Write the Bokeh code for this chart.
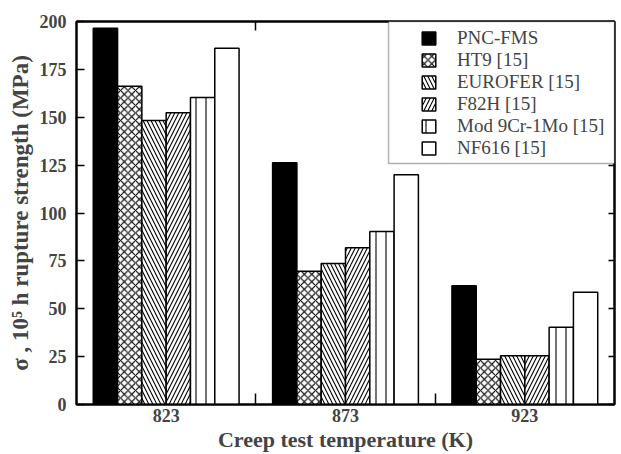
from bokeh.plotting import figure
from bokeh.models import (Range1d, LinearAxis, FixedTicker, Legend,
                          LegendItem, ColumnDataSource, BoxAnnotation)
from bokeh.transform import dodge
from bokeh.embed import file_html
from bokeh.resources import INLINE

# ---- data ----
temperatures = ["823", "873", "923"]
alloys = ["PNC-FMS", "HT9 [15]", "EUROFER [15]", "F82H [15]", "Mod 9Cr-1Mo [15]", "NF616 [15]"]
pnc_fms = [196.5, 126.3, 62.0]
ht9 = [166.2, 69.6, 23.6]
eurofer = [148.3, 73.6, 25.4]
f82h = [152.3, 81.8, 25.4]
mod_9cr_1mo = [160.3, 90.3, 40.4]
nf616 = [186.0, 120.0, 58.6]
y_ticks = [0, 25, 50, 75, 100, 125, 150, 175, 200]

series = [pnc_fms, ht9, eurofer, f82h, mod_9cr_1mo, nf616]
fills = ["black", "white", "white", "white", "white", "white"]
hatches = [" ", "x", "\\", "/", "|", " "]
hatch_scales = [8, 7.5, 8, 8, 10, 8]

FONT = "Liberation Serif"

# group centres on a unit-per-category axis
centers = [i + 0.5 for i in range(len(temperatures))]
bounds = [i for i in range(1, len(temperatures))]

src = ColumnDataSource(dict(pos=centers, **{f"s{i}": s for i, s in enumerate(series)}))

p = figure(width=621, height=454,
           x_range=Range1d(0, len(temperatures)),
           y_range=Range1d(0, 200),
           output_backend="svg", toolbar_location=None,
           x_axis_location=None, y_axis_location=None,
           min_border_left=76, min_border_top=21, min_border_right=7, min_border_bottom=50)
p.xgrid.visible = False
p.ygrid.visible = False
p.outline_line_color = "black"
p.outline_line_width = 2
p.background_fill_color = "white"
p.border_fill_color = "white"

bar_w = 0.1355
n = len(series)
renderers = []
for i in range(n):
    off = (i - (n - 1) / 2) * bar_w
    r = p.vbar(x=dodge("pos", off), top=f"s{i}", width=bar_w, source=src,
               fill_color=fills[i], line_color="black", line_width=1.5,
               hatch_pattern=hatches[i], hatch_color="black", hatch_weight=1.1,
               hatch_scale=hatch_scales[i])
    renderers.append(r)

# bottom axis
bottom = LinearAxis(ticker=FixedTicker(ticks=centers, minor_ticks=bounds),
                    major_label_overrides={c: t for c, t in zip(centers, temperatures)})
bottom.major_tick_in = 0
bottom.major_tick_out = 0
bottom.minor_tick_in = 11
bottom.minor_tick_out = 0
bottom.minor_tick_line_width = 1.5
bottom.axis_line_width = 2
bottom.major_label_text_font = FONT
bottom.major_label_text_font_style = "bold"
bottom.major_label_text_font_size = "18px"
bottom.major_label_standoff = 4
bottom.axis_label = "Creep test temperature (K)"
bottom.axis_label_text_font = FONT
bottom.axis_label_text_font_style = "bold"
bottom.axis_label_text_font_size = "22px"
bottom.axis_label_standoff = 2
p.add_layout(bottom, "below")

# top axis (tick marks only)
top = LinearAxis(ticker=FixedTicker(ticks=[], minor_ticks=bounds))
top.minor_tick_in = 9
top.minor_tick_out = 0
top.minor_tick_line_width = 1.5
top.axis_line_width = 2
top.major_label_standoff = 0
p.add_layout(top, "above")

# left axis
left = LinearAxis(ticker=FixedTicker(ticks=y_ticks))
left.major_tick_in = 8
left.major_tick_out = 0
left.minor_tick_line_color = None
left.major_tick_line_width = 1.5
left.axis_line_width = 2
left.major_label_text_font = FONT
left.major_label_text_font_style = "bold"
left.major_label_text_font_size = "18px"
left.major_label_standoff = 10
left.axis_label = "\u03c3 , 10\u2075 h rupture strength (MPa)"
left.axis_label_text_font = FONT
left.axis_label_text_font_style = "bold"
left.axis_label_text_font_size = "23px"
left.axis_label_standoff = 4
p.add_layout(left, "left")

# right axis (tick marks only)
right = LinearAxis(ticker=FixedTicker(ticks=[], minor_ticks=y_ticks))
right.minor_tick_in = 6
right.minor_tick_out = 0
right.minor_tick_line_width = 1.5
right.axis_line_width = 2
right.major_label_standoff = 0
p.add_layout(right, "right")

# legend frame
box = BoxAnnotation(left=1.74, right=len(temperatures), top=200, bottom=125.8,
                    fill_color="white", fill_alpha=1,
                    line_color="black", line_width=1.5)
p.add_layout(box)

legend = Legend(items=[LegendItem(label=a, renderers=[r]) for a, r in zip(alloys, renderers)],
                location="top_right", margin=6, padding=0, spacing=0,
                glyph_width=17, glyph_height=16, label_height=20, label_width=151,
                label_standoff=20,
                border_line_color=None, background_fill_alpha=0,
                label_text_font=FONT, label_text_font_size="19px")
p.add_layout(legend)

open("out.html", "w").write(file_html(p, INLINE))
